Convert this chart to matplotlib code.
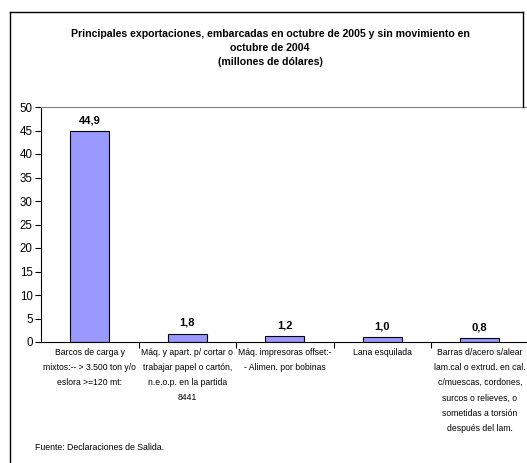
import matplotlib.pyplot as plt
from matplotlib.lines import Line2D
import numpy as np

plt.rcParams['font.family'] = ['Liberation Sans', 'DejaVu Sans']

# data
categories = ['Barcos de carga y\nmixtos:-- > 3.500 ton y/o\neslora >=120 mt:',
              'Máq. y apart. p/ cortar o\ntrabajar papel o cartón,\nn.e.o.p. en la partida\n8441',
              'Máq. impresoras offset:-\n- Alimen. por bobinas',
              'Lana esquilada',
              'Barras d/acero s/alear\nlam.cal o extrud. en cal.\nc/muescas, cordones,\nsurcos o relieves, o\nsometidas a torsión\ndespués del lam.']
values = [44.9, 1.8, 1.2, 1.0, 0.8]
value_labels = ['44,9', '1,8', '1,2', '1,0', '0,8']
yticks = [0, 5, 10, 15, 20, 25, 30, 35, 40, 45, 50]

W, H = 527, 463
fig = plt.figure(figsize=(W / 100, H / 100), dpi=100)
ax = fig.add_axes([41 / W, (H - 342) / H, 487.5 / W, 235 / H])

x = np.arange(len(values))
ax.bar(x, values, width=0.4, color='#9999FF', edgecolor='black', linewidth=0.8)
for xi, v, lab in zip(x, values, value_labels):
    ax.annotate(lab, (xi, v), xytext=(0, 4), textcoords='offset points',
                ha='center', va='bottom', fontsize=8, fontweight='bold')

ax.set_xlim(-0.5, len(values) - 0.5)
ax.set_ylim(0, 50)
ax.set_yticks(yticks)
ax.tick_params(axis='y', labelsize=8.3, length=4, width=0.8, direction='out', pad=2)

ax.set_xticks(x)
ax.set_xticklabels(categories, fontsize=6.2, linespacing=1.9, va='top')
ax.tick_params(axis='x', which='major', length=0, pad=4)
ax.set_xticks(np.arange(0.5, len(values) - 0.5, 1.0), minor=True)
ax.tick_params(axis='x', which='minor', length=4, width=0.8, direction='out')

ax.spines['left'].set_color('black')
ax.spines['bottom'].set_color('black')
ax.spines['top'].set_color('#808080')
ax.spines['right'].set_visible(False)

fig.text(270 / W, 1 - 29 / H,
         'Principales exportaciones, embarcadas en octubre de 2005 y sin movimiento en\n'
         'octubre de 2004\n(millones de dólares)',
         ha='center', va='top', fontsize=7.6, fontweight='bold', linespacing=1.5)
fig.text(35 / W, 1 - 447 / H, 'Fuente: Declaraciones de Salida.', fontsize=6.3,
         ha='left', va='center')

# outer chart border
border = dict(color='black', linewidth=1.0, transform=fig.transFigure)
fig.add_artist(Line2D([10 / W, 10 / W], [0, 1 - 12 / H], **border))
fig.add_artist(Line2D([10 / W, 523 / W], [1 - 12 / H, 1 - 12 / H], **border))
fig.add_artist(Line2D([523 / W, 523 / W], [1 - 12 / H, 1 - 107 / H], **border))

fig.savefig('out.png', dpi=100)
